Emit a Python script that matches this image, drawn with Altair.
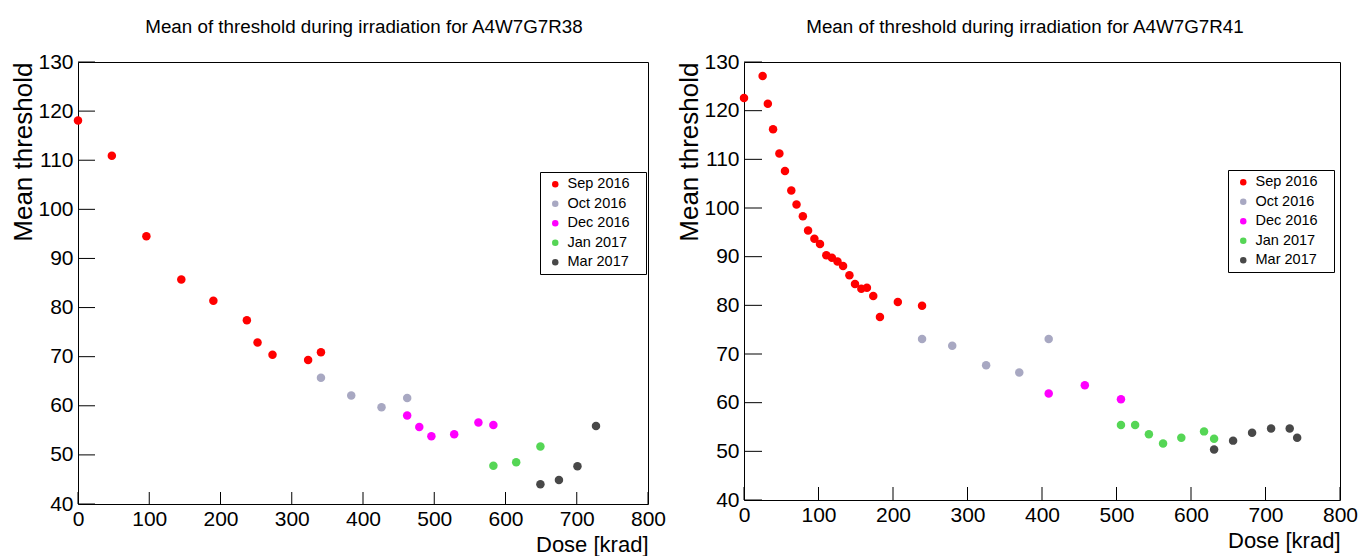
import altair as alt
import pandas as pd

# ---------------- data ----------------
series_names = ["Sep 2016", "Oct 2016", "Dec 2016", "Jan 2017", "Mar 2017"]
series_colors = ["#ff0000", "#a8a8c2", "#ff00ff", "#55d655", "#484848"]

# Left panel: A4W7G7R38
L_sep_x = [0, 47.5, 96, 145, 190, 237, 252, 273, 323, 341]
L_sep_y = [118.1, 110.9, 94.5, 85.7, 81.4, 77.4, 72.9, 70.4, 69.3, 70.9]
L_oct_x = [341, 383.5, 426, 462]
L_oct_y = [65.7, 62.1, 59.7, 61.6]
L_dec_x = [462, 479, 496, 528, 562, 583]
L_dec_y = [58.0, 55.7, 53.8, 54.2, 56.6, 56.1]
L_jan_x = [583, 615, 649]
L_jan_y = [47.8, 48.5, 51.7]
L_mar_x = [649, 675, 701, 727]
L_mar_y = [44.0, 44.9, 47.7, 55.9]

# Right panel: A4W7G7R41
R_sep_x = [0, 25, 32, 39, 47.5, 55, 63.5, 70.5, 79, 86, 94.5, 102, 110.5, 118,
           125.5, 133, 141.5, 149, 157.5, 165, 173.5, 182.5, 206.5, 239]
R_sep_y = [122.6, 127.1, 121.4, 116.2, 111.2, 107.6, 103.6, 100.7, 98.3, 95.4,
           93.7, 92.6, 90.3, 89.8, 89.0, 88.1, 86.2, 84.4, 83.4, 83.6, 81.9,
           77.6, 80.7, 79.9]
R_oct_x = [239, 279.5, 325, 369.5, 409]
R_oct_y = [73.1, 71.7, 67.7, 66.2, 73.1]
R_dec_x = [409, 457.5, 506]
R_dec_y = [61.9, 63.6, 60.7]
R_jan_x = [506, 525, 543.5, 562.5, 587, 617.5, 631]
R_jan_y = [55.4, 55.4, 53.5, 51.6, 52.8, 54.1, 52.6]
R_mar_x = [631, 656.5, 682, 707.5, 732.5, 742.5]
R_mar_y = [50.4, 52.2, 53.8, 54.7, 54.7, 52.8]

x_tick_values = [0, 100, 200, 300, 400, 500, 600, 700, 800]
y_tick_values = [40, 50, 60, 70, 80, 90, 100, 110, 120, 130]

FONT = "Liberation Sans"


def make_df(xs_list, ys_list):
    rows = []
    for name, xs, ys in zip(series_names, xs_list, ys_list):
        for x, y in zip(xs, ys):
            rows.append({"dose": x, "threshold": y, "period": name})
    return pd.DataFrame(rows)


left_df = make_df([L_sep_x, L_oct_x, L_dec_x, L_jan_x, L_mar_x],
                  [L_sep_y, L_oct_y, L_dec_y, L_jan_y, L_mar_y])
right_df = make_df([R_sep_x, R_oct_x, R_dec_x, R_jan_x, R_mar_x],
                   [R_sep_y, R_oct_y, R_dec_y, R_jan_y, R_mar_y])

# trailing blank (non-whitespace, so it is not trimmed) widens the legend box
pad_text = "\u2800"


def panel(df, title, w, h, ytick_len, xtick_len, lx, ly, tdx):
    xscale = alt.Scale(domain=[0, 800], nice=False, zero=False)
    yscale = alt.Scale(domain=[40, 130], nice=False, zero=False)
    xaxis = alt.Axis(values=x_tick_values, title="Dose [krad]", titleAnchor="end",
                     titleFont=FONT, titleFontSize=22, titleBaseline="alphabetic",
                     titleY=47, labelPadding=4, format="d")
    yaxis = alt.Axis(values=y_tick_values, title="Mean threshold", titleAnchor="end",
                     titleFont=FONT, titleFontSize=26, titlePadding=1,
                     labelPadding=5, format="d")

    pts = alt.Chart(df).mark_circle(size=72, opacity=1).encode(
        x=alt.X("dose:Q", scale=xscale, axis=xaxis),
        y=alt.Y("threshold:Q", scale=yscale, axis=yaxis),
        color=alt.Color(
            "period:N",
            scale=alt.Scale(domain=series_names, range=series_colors),
            legend=alt.Legend(
                title=None, orient="none", legendX=lx, legendY=ly,
                strokeColor="black", fillColor="white", padding=5,
                symbolType="circle", symbolSize=42, symbolOffset=3,
                labelOffset=5, labelFontSize=14.5, labelFont=FONT,
                labelColor="black", rowPadding=4.5,
                labelExpr="datum.label + '" + pad_text + "'",
            ),
        ),
    )
    yt = alt.Chart(pd.DataFrame({"threshold": y_tick_values})).mark_tick(
        color="black", thickness=1, size=ytick_len, orient="horizontal", opacity=1
    ).encode(
        y=alt.Y("threshold:Q", scale=yscale, axis=yaxis),
        x=alt.value(ytick_len / 2),
    )
    xt = alt.Chart(pd.DataFrame({"dose": x_tick_values})).mark_tick(
        color="black", thickness=1, size=xtick_len, orient="vertical", opacity=1
    ).encode(
        x=alt.X("dose:Q", scale=xscale, axis=xaxis),
        y=alt.value(h - xtick_len / 2),
    )
    return alt.layer(yt, xt, pts).properties(
        width=w, height=h,
        title=alt.TitleParams(title, fontSize=18.8, font=FONT, fontWeight="normal",
                              anchor="middle", dx=tdx, offset=14, color="black"),
    )


left = panel(left_df, "Mean of threshold during irradiation for A4W7G7R38",
             570, 442, 17, 12, 462, 110, 1)
right = panel(right_df, "Mean of threshold during irradiation for A4W7G7R41",
              596, 438, 18, 13, 484, 108, -17)

chart = alt.hconcat(left, right, spacing=96, bounds="flush").resolve_legend(
    color="independent"
).properties(
    padding={"left": 2, "top": 9, "right": 0, "bottom": 0}
).configure(font=FONT).configure_view(
    stroke="black", strokeWidth=1
).configure_axis(
    domain=False, ticks=False, grid=False,
    labelFont=FONT, labelFontSize=21, labelColor="black",
    labelFlush=False, labelOverlap=False,
    titleFontWeight="normal", titleColor="black",
)

chart.save("out.html", embed_options={"renderer": "svg", "actions": False})
